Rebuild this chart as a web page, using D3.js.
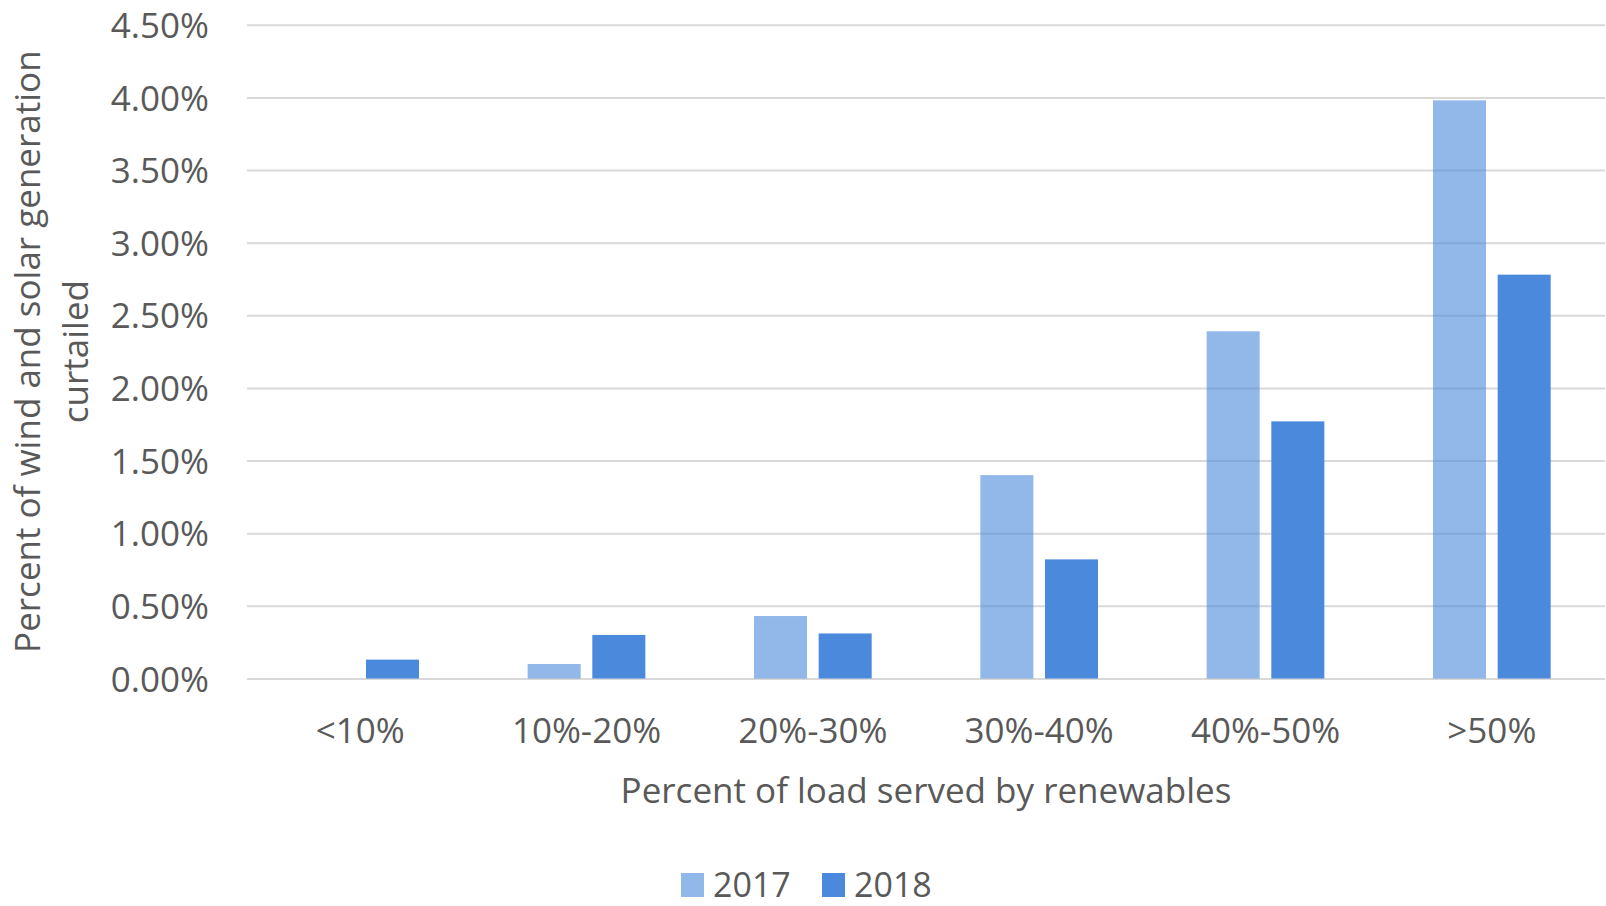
<!DOCTYPE html>
<html>
<head>
<meta charset="utf-8">
<script src="https://cdn.jsdelivr.net/npm/d3@7"></script>
<style>
  html, body { margin: 0; padding: 0; background: #fff; }
  svg { display: block; }
  text { font-family: "Open Sans", "Noto Sans", sans-serif; fill: #595959; }
</style>
</head>
<body>
<svg id="chart" width="1606" height="906"></svg>
<script>
const categories = ["<10%", "10%-20%", "20%-30%", "30%-40%", "40%-50%", ">50%"];
const seriesNames = ["2017", "2018"];
const values2017 = [0, 0.0010, 0.0043, 0.0140, 0.0239, 0.0398];
const values2018 = [0.0013, 0.0030, 0.0031, 0.0082, 0.0177, 0.0278];
const yTicks = [0, 0.005, 0.01, 0.015, 0.02, 0.025, 0.03, 0.035, 0.04, 0.045];
const xTitle = "Percent of load served by renewables";
const yTitleLines = ["Percent of wind and solar generation", "curtailed"];

const colors = { "2017": "#4A89DC", "2018": "#4A89DC" };
const opacities = { "2017": 0.6, "2018": 1 };

const svg = d3.select("#chart");
const mLeft = 247, mRight = 1605, mTop = 24.8, mBottom = 678.5;
const width = mRight - mLeft, height = mBottom - mTop;

const g = svg.append("g").attr("transform", `translate(${mLeft},${mTop})`);

const x0 = d3.scaleBand().domain(categories).range([0, width])
  .paddingInner(0.48).paddingOuter(0.24);
const x1 = d3.scaleBand().domain(seriesNames).range([0, x0.bandwidth()]).paddingInner(0.18);
const y = d3.scaleLinear().domain([0, 0.045]).range([height, 0]);

// gridlines + y labels
const yAxis = d3.axisLeft(y).tickValues(yTicks).tickFormat(d3.format(".2%"))
  .tickSize(-width).tickPadding(38);
const ya = g.append("g").call(yAxis);
ya.select(".domain").remove();
ya.selectAll(".tick line").attr("stroke", "#D9D9D9").attr("stroke-width", 2);
ya.selectAll(".tick text").attr("font-size", 35).attr("fill", "#595959")
  .attr("font-family", '"Open Sans", sans-serif').attr("dy", "0.36em");

// bars
const rows = categories.map((c, i) => ({ cat: c, vals: [
  { s: "2017", v: values2017[i] }, { s: "2018", v: values2018[i] }] }));
const grp = g.append("g").selectAll("g").data(rows).join("g")
  .attr("transform", d => `translate(${x0(d.cat)},0)`);
grp.selectAll("rect").data(d => d.vals.filter(e => e.v > 0)).join("rect")
  .attr("x", d => x1(d.s))
  .attr("width", x1.bandwidth())
  .attr("y", d => y(d.v))
  .attr("height", d => y(0) - y(d.v))
  .attr("fill", d => colors[d.s])
  .attr("fill-opacity", d => opacities[d.s]);

// x axis labels
const xAxis = d3.axisBottom(x0).tickSize(0);
const xa = g.append("g").attr("transform", `translate(0,${height})`).call(xAxis);
xa.select(".domain").remove();
xa.selectAll(".tick text").attr("font-size", 35).attr("fill", "#595959")
  .attr("font-family", '"Open Sans", sans-serif').attr("dy", null).attr("y", 64.5);

// x title
svg.append("text").attr("x", mLeft + width / 2).attr("y", 803)
  .attr("text-anchor", "middle").attr("font-size", 35).text(xTitle);

// y title
const yt = svg.append("text").attr("transform", `translate(0,${mTop + height / 2}) rotate(-90)`)
  .attr("text-anchor", "middle").attr("font-size", 35);
yt.append("tspan").attr("x", 0).attr("y", 40).text(yTitleLines[0]);
yt.append("tspan").attr("x", 0).attr("y", 88).text(yTitleLines[1]);

// legend
const legendX = [681, 822];
const lg = svg.append("g").selectAll("g").data(seriesNames).join("g")
  .attr("transform", (d, i) => `translate(${legendX[i]},873)`);
lg.append("rect").attr("width", 23).attr("height", 24)
  .attr("fill", d => colors[d]).attr("fill-opacity", d => opacities[d]);
lg.append("text").attr("x", 32).attr("y", 24).attr("font-size", 34).text(d => d);
</script>
</body>
</html>
